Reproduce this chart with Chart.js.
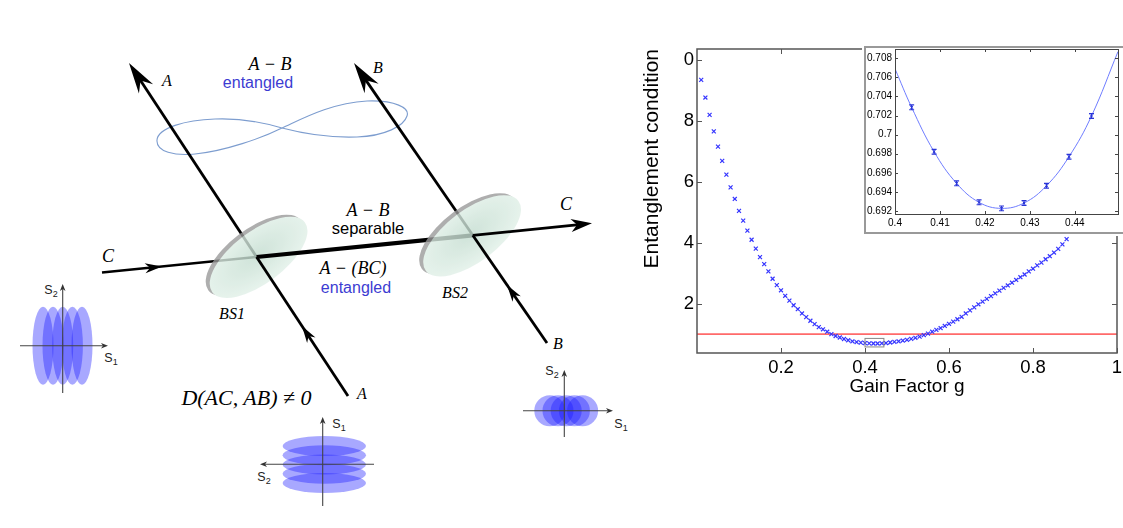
<!DOCTYPE html>
<html>
<head>
<meta charset="utf-8">
<script src="https://cdn.jsdelivr.net/npm/chart.js@4.4.1/dist/chart.umd.min.js"></script>
<style>
  html,body{margin:0;padding:0;background:#fff;}
  #page{position:relative;width:1123px;height:528px;overflow:hidden;background:#fff;}
  #diagram{position:absolute;left:0;top:0;}
  #mainChart{position:absolute;left:630px;top:30px;}
  #insetChart{position:absolute;left:862px;top:44px;}
</style>
</head>
<body>
<div id="page">
  <svg id="diagram" width="630" height="528" xmlns="http://www.w3.org/2000/svg"></svg>
  <canvas id="mainChart" width="493" height="370" style="width:493px;height:370px"></canvas>
  <canvas id="insetChart" width="261" height="192" style="width:261px;height:192px"></canvas>
</div>
<script>
// ---------------- DATA ----------------
const gainG = [0.01,0.02,0.03,0.04,0.05,0.06,0.07,0.08,0.09,0.10,
  0.11,0.12,0.13,0.14,0.15,0.16,0.17,0.18,0.19,0.20,
  0.21,0.22,0.23,0.24,0.25,0.26,0.27,0.28,0.29,0.30,
  0.31,0.32,0.33,0.34,0.35,0.36,0.37,0.38,0.39,0.40,
  0.41,0.42,0.43,0.44,0.45,0.46,0.47,0.48,0.49,0.50,
  0.51,0.52,0.53,0.54,0.55,0.56,0.57,0.58,0.59,0.60,
  0.61,0.62,0.63,0.64,0.65,0.66,0.67,0.68,0.69,0.70,
  0.71,0.72,0.73,0.74,0.75,0.76,0.77,0.78,0.79,0.80,
  0.81,0.82,0.83,0.84,0.85,0.86,0.87,0.88];
const condVals = [9.35,8.77,8.20,7.66,7.16,6.69,6.24,5.82,5.44,5.05,
  4.73,4.40,4.10,3.81,3.53,3.30,3.06,2.82,2.61,2.44,
  2.26,2.10,1.95,1.82,1.68,1.56,1.44,1.33,1.23,1.16,
  1.08,1.00,0.94,0.89,0.84,0.80,0.765,0.74,0.72,0.707,
  0.697,0.693,0.693,0.700,0.708,0.725,0.745,0.765,0.79,0.815,
  0.845,0.88,0.92,0.97,1.02,1.08,1.14,1.20,1.27,1.34,
  1.41,1.49,1.57,1.68,1.78,1.88,1.98,2.07,2.16,2.25,
  2.34,2.43,2.52,2.60,2.69,2.78,2.87,2.96,3.06,3.15,
  3.26,3.35,3.46,3.56,3.68,3.80,3.95,4.12];
const thresholdG = [0, 1];
const thresholdV = [1, 1];
const zoomBoxG = [0.40, 0.445];
const zoomBoxV = [0.58, 0.86];
const xTickVals = [0.2, 0.4, 0.6, 0.8, 1];
const xTickLabels = ['0.2', '0.4', '0.6', '0.8', '1'];
const yTickVals = [2, 4, 6, 8, 10];
const yTickLabels = ['2', '4', '6', '8', '0'];

const insetG = [0.4037,0.4087,0.4137,0.4187,0.4237,0.4287,0.4337,0.4387,0.4437];
const insetV = [0.70286,0.69821,0.69490,0.69291,0.69228,0.69284,0.69465,0.69769,0.70195];
const insetErr = [0.00025,0.00025,0.00025,0.00025,0.00025,0.00025,0.00025,0.00025,0.00025];
const insetCurveG = [0.4000,0.4037,0.4087,0.4137,0.4187,0.4237,0.4287,0.4337,0.4387,0.4437,0.4496];
const insetCurveV = [0.70690,0.70286,0.69821,0.69490,0.69291,0.69228,0.69284,0.69465,0.69769,0.70195,0.70870];
const insetXTicks = [0.40, 0.41, 0.42, 0.43, 0.44];
const insetXLabels = ['0.4', '0.41', '0.42', '0.43', '0.44'];
const insetYTicks = [0.692,0.694,0.696,0.698,0.700,0.702,0.704,0.706,0.708];
const insetYLabels = ['0.692','0.694','0.696','0.698','0.7','0.702','0.704','0.706','0.708'];

const FONT = "'Liberation Sans', Arial, Helvetica, sans-serif";

// ---------------- MAIN CHART ----------------
const mainFrame = {
  id: 'mainFrame',
  afterDraw(chart) {
    const {ctx, chartArea: {left, right, top, bottom}, scales: {x, y}} = chart;
    ctx.save();
    ctx.strokeStyle = '#555';
    ctx.lineWidth = 1.5;
    ctx.strokeRect(left, top, right - left, bottom - top);
    ctx.lineWidth = 1;
    ctx.beginPath();
    xTickVals.forEach(v => {
      const px = Math.round(x.getPixelForValue(v)) + 0.5;
      ctx.moveTo(px, bottom); ctx.lineTo(px, bottom - 5);
      ctx.moveTo(px, top); ctx.lineTo(px, top + 5);
    });
    yTickVals.forEach(v => {
      const py = Math.round(y.getPixelForValue(v)) + 0.5;
      ctx.moveTo(left, py); ctx.lineTo(left + 5, py);
      ctx.moveTo(right, py); ctx.lineTo(right - 5, py);
    });
    ctx.stroke();
    // zoom box
    const bx0 = x.getPixelForValue(zoomBoxG[0]), bx1 = x.getPixelForValue(zoomBoxG[1]);
    const by0 = y.getPixelForValue(zoomBoxV[1]), by1 = y.getPixelForValue(zoomBoxV[0]);
    ctx.strokeStyle = '#888';
    ctx.lineWidth = 1;
    ctx.strokeRect(bx0, by0, bx1 - bx0, by1 - by0);
    ctx.restore();
  }
};

new Chart(document.getElementById('mainChart'), {
  type: 'scatter',
  data: {
    datasets: [
      {
        label: 'Entanglement condition',
        data: gainG.map((g, i) => ({x: g, y: condVals[i]})),
        pointStyle: 'crossRot',
        pointRadius: 2.8,
        borderColor: '#3434ff',
        backgroundColor: '#3434ff',
        borderWidth: 1.2,
        showLine: false,
        order: 1
      },
      {
        label: 'threshold',
        data: thresholdG.map((g, i) => ({x: g, y: thresholdV[i]})),
        showLine: true,
        pointRadius: 0,
        borderColor: '#ff6a6a',
        borderWidth: 1.6,
        order: 2
      }
    ]
  },
  options: {
    responsive: false,
    animation: false,
    devicePixelRatio: 1,
    layout: {padding: {top: 19, right: 6, left: 0, bottom: 0}},
    plugins: {legend: {display: false}, tooltip: {enabled: false}},
    scales: {
      x: {
        type: 'linear', min: 0, max: 1,
        grid: {display: false, drawTicks: false}, border: {display: false},
        afterBuildTicks: s => { s.ticks = xTickVals.map(v => ({value: v})); },
        afterFit: s => { s.height = 47; s.paddingLeft = 0; s.paddingRight = 0; },
        ticks: {
          font: {family: FONT, size: 18.5}, color: '#000', padding: 4,
          maxRotation: 0, autoSkip: false,
          callback: (v, i) => xTickLabels[i]
        },
        title: {display: true, text: 'Gain Factor g', color: '#000',
          font: {family: FONT, size: 19}, padding: {top: 0, bottom: 2}}
      },
      y: {
        type: 'linear', min: 0.381, max: 10.365,
        grid: {display: false, drawTicks: false}, border: {display: false},
        afterBuildTicks: s => { s.ticks = yTickVals.map(v => ({value: v})); },
        afterFit: s => { s.width = 67; s.paddingTop = 0; s.paddingBottom = 0; },
        ticks: {
          font: {family: FONT, size: 18.5}, color: '#000', padding: 3,
          autoSkip: false,
          callback: (v, i) => yTickLabels[i]
        },
        title: {display: true, text: 'Entanglement condition', align: 'end', color: '#000',
          font: {family: FONT, size: 21}, padding: {top: 10, bottom: 0}}
      }
    }
  },
  plugins: [mainFrame]
});

// ---------------- INSET CHART ----------------
const insetDecor = {
  id: 'insetDecor',
  beforeDraw(chart) {
    const {ctx, width, height} = chart;
    ctx.save();
    ctx.fillStyle = '#fff';
    ctx.fillRect(0, 0, width, height);
    ctx.strokeStyle = '#999';
    ctx.lineWidth = 2;
    ctx.beginPath();
    ctx.moveTo(width + 2, 3);
    ctx.lineTo(3, 3);
    ctx.lineTo(3, 189);
    ctx.lineTo(width + 2, 189);
    ctx.stroke();
    ctx.restore();
  },
  afterDraw(chart) {
    const {ctx, chartArea: {left, right, top, bottom}, scales: {x, y}} = chart;
    ctx.save();
    ctx.strokeStyle = '#444';
    ctx.lineWidth = 1;
    ctx.strokeRect(left + 0.5, top + 0.5, right - left, bottom - top);
    ctx.beginPath();
    insetXTicks.forEach(v => {
      const px = Math.round(x.getPixelForValue(v)) + 0.5;
      ctx.moveTo(px, bottom); ctx.lineTo(px, bottom - 3);
      ctx.moveTo(px, top); ctx.lineTo(px, top + 3);
    });
    insetYTicks.forEach(v => {
      const py = Math.round(y.getPixelForValue(v)) + 0.5;
      ctx.moveTo(left, py); ctx.lineTo(left + 3, py);
      ctx.moveTo(right, py); ctx.lineTo(right - 3, py);
    });
    ctx.stroke();
    // error bars
    ctx.strokeStyle = '#2a35d8';
    ctx.lineWidth = 1.2;
    ctx.beginPath();
    insetG.forEach((g, i) => {
      const px = x.getPixelForValue(g);
      const pt = y.getPixelForValue(insetV[i] + insetErr[i]);
      const pb = y.getPixelForValue(insetV[i] - insetErr[i]);
      ctx.moveTo(px, pt); ctx.lineTo(px, pb);
      ctx.moveTo(px - 2.5, pt); ctx.lineTo(px + 2.5, pt);
      ctx.moveTo(px - 2.5, pb); ctx.lineTo(px + 2.5, pb);
    });
    ctx.stroke();
    ctx.restore();
  }
};

new Chart(document.getElementById('insetChart'), {
  type: 'scatter',
  data: {
    datasets: [
      {
        label: 'fit',
        data: insetCurveG.map((g, i) => ({x: g, y: insetCurveV[i]})),
        showLine: true, pointRadius: 0, tension: 0.4,
        borderColor: '#6f7dff', borderWidth: 1, order: 2
      },
      {
        label: 'points',
        data: insetG.map((g, i) => ({x: g, y: insetV[i]})),
        pointStyle: 'crossRot', pointRadius: 1.8,
        borderColor: '#2a35d8', borderWidth: 1, showLine: false, order: 1
      }
    ]
  },
  options: {
    responsive: false,
    animation: false,
    devicePixelRatio: 1,
    layout: {padding: {top: 5, right: 3, left: 0, bottom: 0}},
    plugins: {legend: {display: false}, tooltip: {enabled: false}},
    scales: {
      x: {
        type: 'linear', min: 0.4, max: 0.4496,
        grid: {display: false, drawTicks: false}, border: {display: false},
        afterBuildTicks: s => { s.ticks = insetXTicks.map(v => ({value: v})); },
        afterFit: s => { s.height = 22; s.paddingLeft = 0; s.paddingRight = 0; },
        ticks: {font: {family: FONT, size: 10}, color: '#000', padding: 3,
          maxRotation: 0, autoSkip: false, callback: (v, i) => insetXLabels[i]}
      },
      y: {
        type: 'linear', min: 0.69169, max: 0.70897,
        grid: {display: false, drawTicks: false}, border: {display: false},
        afterBuildTicks: s => { s.ticks = insetYTicks.map(v => ({value: v})); },
        afterFit: s => { s.width = 33; s.paddingTop = 0; s.paddingBottom = 0; },
        ticks: {font: {family: FONT, size: 10}, color: '#000', padding: 3,
          autoSkip: false, callback: (v, i) => insetYLabels[i]}
      }
    }
  },
  plugins: [insetDecor]
});

// ---------------- DIAGRAM (left illustration) ----------------
const svg = document.getElementById('diagram');
const NS = 'http://www.w3.org/2000/svg';
function el(tag, attrs, parent) {
  const e = document.createElementNS(NS, tag);
  for (const k in attrs) e.setAttribute(k, attrs[k]);
  (parent || svg).appendChild(e);
  return e;
}
function unit(p, q) { const dx = q[0]-p[0], dy = q[1]-p[1], l = Math.hypot(dx, dy); return [dx/l, dy/l]; }
function seg(p, q, w, color) {
  el('line', {x1: p[0], y1: p[1], x2: q[0], y2: q[1], stroke: color || '#000', 'stroke-width': w});
}
function head(tip, from, L, W, N, color) {
  const u = unit(from, tip), n = [-u[1], u[0]];
  const b = [tip[0] - u[0]*L, tip[1] - u[1]*L];
  const m = [tip[0] - u[0]*N, tip[1] - u[1]*N];
  el('path', {d: `M${tip[0]},${tip[1]} L${b[0]+n[0]*W},${b[1]+n[1]*W} L${m[0]},${m[1]} L${b[0]-n[0]*W},${b[1]-n[1]*W} Z`, fill: color || '#000'});
}
function back(tip, from, d) { const u = unit(from, tip); return [tip[0]-u[0]*d, tip[1]-u[1]*d]; }
function txt(x, y, s, o) {
  const t = el('text', {x: x, y: y, 'text-anchor': 'middle', 'dominant-baseline': 'central',
    'font-family': o.serif ? "'Liberation Serif','Times New Roman',serif" : "'Liberation Sans',Arial,sans-serif",
    'font-style': o.italic ? 'italic' : 'normal', 'font-size': o.size, fill: o.color || '#000'});
  t.textContent = s;
  return t;
}
function sLabel(x, y, sub) {
  const t = el('text', {x: x, y: y, 'text-anchor': 'middle', 'dominant-baseline': 'central',
    'font-family': "'Liberation Sans',Arial,sans-serif", 'font-size': 12.5, fill: '#222'});
  t.appendChild(document.createTextNode('S'));
  const sp = document.createElementNS(NS, 'tspan');
  sp.setAttribute('font-size', 9); sp.setAttribute('dy', 4);
  sp.textContent = sub;
  t.appendChild(sp);
}

// defs: lens gradient
const defs = el('defs', {});
const rg = el('radialGradient', {id: 'lensGrad', cx: '50%', cy: '45%', r: '55%'}, defs);
el('stop', {offset: '0%', 'stop-color': '#c4ddd0'}, rg);
el('stop', {offset: '100%', 'stop-color': '#e2f1e9'}, rg);

// geometry
const Abot = [348, 396], Atop = [129, 63];
const Bbot = [547, 343], Btop = [354, 63];
const Cstart = [102, 272.5];
function onLine(p, q, y) { const t = (y - p[1]) / (q[1] - p[1]); return [p[0] + (q[0]-p[0])*t, y]; }
const J1 = onLine(Abot, Atop, 257);
const cSlope = (J1[1] - Cstart[1]) / (J1[0] - Cstart[0]);
function cAt(x) { return [x, J1[1] + cSlope * (x - J1[0])]; }
const bk = (Btop[0] - Bbot[0]) / (Btop[1] - Bbot[1]);
let jy = J1[1];
for (let k = 0; k < 30; k++) { const bx = Bbot[0] + bk * (jy - Bbot[1]); jy = cAt(bx)[1]; }
const J2 = [Bbot[0] + bk * (jy - Bbot[1]), jy];
const Cend = cAt(592);

// figure-eight
el('path', {d: 'M282,128 C300,120 330,103 367,101 C395,100 410,108 407,116 C404,126 385,136 357,137 C330,138 305,134 282,128 C262,122 240,118 215,119 C185,120 158,128 157,140 C156,152 175,156 195,154 C225,151 262,138 282,128 Z',
  fill: 'none', stroke: '#7d9dcf', 'stroke-width': 1.1});

// lines under the lenses
seg(J1, back(Atop, J1, 12), 2.8);
head(Atop, J1, 31, 8.5, 21);
seg(Cstart, J1, 2.6);
head(cAt(162), Cstart, 17, 5, 12);
seg(J2, back(Btop, J2, 12), 2.8);
head(Btop, J2, 31, 8.5, 21);

function lens(c) {
  const g = el('g', {transform: `rotate(-37 ${c[0]} ${c[1]})`, opacity: 0.8});
  el('ellipse', {cx: c[0] - 1, cy: c[1] - 3.5, rx: 58, ry: 26, fill: '#9a9a9a'}, g);
  el('ellipse', {cx: c[0] + 1, cy: c[1] + 0.5, rx: 58, ry: 26, fill: 'url(#lensGrad)'}, g);
}
lens([257.5, 257.5]);
seg(J1, Abot, 2.8);
head(onLine(Abot, Atop, 326), Abot, 17, 5, 12);
seg(J1, J2, 4.2);
lens([471, 236]);
seg(J2, back(Cend, J2, 8), 2.8);
head(Cend, J2, 21, 6.5, 15);
seg(J2, Bbot, 2.8);
head(onLine(Bbot, Btop, 285), Bbot, 17, 5, 12);

// labels
txt(167, 80, 'A', {serif: true, italic: true, size: 16});
txt(378, 67, 'B', {serif: true, italic: true, size: 16});
txt(270, 64, 'A − B', {serif: true, italic: true, size: 18});
txt(258, 82, 'entangled', {size: 16, color: '#3c3cd2'});
txt(368, 210, 'A − B', {serif: true, italic: true, size: 18});
txt(368, 228, 'separable', {size: 16.5});
txt(353, 268, 'A − (BC)', {serif: true, italic: true, size: 18});
txt(356, 287, 'entangled', {size: 16, color: '#3c3cd2'});
txt(108, 256, 'C', {serif: true, italic: true, size: 18});
txt(566, 204, 'C', {serif: true, italic: true, size: 18});
txt(232, 313, 'BS1', {serif: true, italic: true, size: 16});
txt(455, 292, 'BS2', {serif: true, italic: true, size: 16});
txt(362, 393, 'A', {serif: true, italic: true, size: 16});
txt(558, 343, 'B', {serif: true, italic: true, size: 16});
txt(246.5, 397, 'D(AC, AB) ≠ 0', {serif: true, italic: true, size: 22});

// phase-space sketches
const blobFill = '#1a1aff', blobOp = 0.38;
[43, 53, 62.7, 72.4, 82].forEach(cx => el('ellipse', {cx: cx, cy: 345.7, rx: 10.5, ry: 39, fill: blobFill, 'fill-opacity': blobOp}));
[446, 455.3, 464.5, 473.8, 483].forEach(cy => el('ellipse', {cx: 324.3, cy: cy, rx: 41.7, ry: 10, fill: blobFill, 'fill-opacity': blobOp}));
[549.8, 558, 566.2, 574.4, 582.6].forEach(cx => el('ellipse', {cx: cx, cy: 410.7, rx: 15.5, ry: 15.5, fill: blobFill, 'fill-opacity': blobOp}));

function axisArrow(p, q) { seg(p, back(q, p, 4), 1.1, '#444'); head(q, p, 7, 2.8, 5, '#333'); }
// plot 1
axisArrow([20, 345.7], [108, 345.7]);
seg([62.7, 393], [62.7, 300], 1.1, '#444');
axisArrow([62.7, 300], [62.7, 284]);
sLabel(51, 290, '2');
sLabel(111, 358, '1');
// plot 2
axisArrow([374, 464.3], [260, 464.3]);
seg([322.7, 506], [322.7, 430], 1.1, '#444');
axisArrow([322.7, 430], [322.7, 417]);
sLabel(339, 424, '1');
sLabel(264, 477, '2');
// plot 3
axisArrow([523, 410.7], [613, 410.7]);
seg([564.3, 437], [564.3, 380], 1.1, '#444');
axisArrow([564.3, 380], [564.3, 370]);
sLabel(552, 371, '2');
sLabel(621, 424, '1');
</script>
</body>
</html>
